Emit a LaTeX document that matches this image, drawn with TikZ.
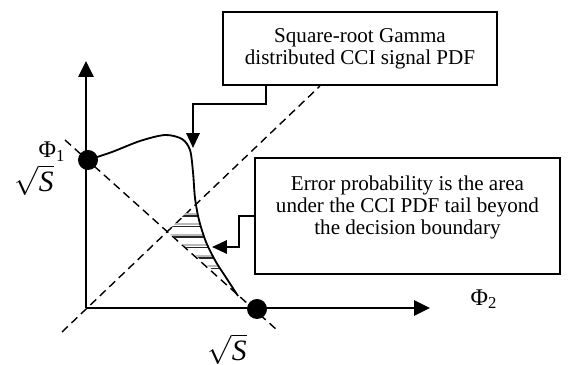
\documentclass[tikz,border=0pt]{standalone}
\usepackage{fontspec}
\setmainfont{Liberation Serif}
\usetikzlibrary{arrows.meta,positioning}

\tikzset{
  axis/.style={line width=2.1pt, -{Triangle[width=0.375cm, length=0.4cm]}},
  boundary/.style={line width=1pt, dash pattern=on 5.7pt off 3.6pt},
  callout/.style={draw, line width=1pt, align=center, font=\fontsize{15}{15.5}\selectfont},
  callout arrow/.style={line width=1.5pt, -{Triangle[width=0.33cm, length=0.37cm]}},
  point/.style={circle, fill=black, inner sep=0pt, minimum size=0.5cm},
  axislabel/.style={font=\fontsize{17}{17}\selectfont},
  rootlabel/.style={font=\fontsize{21}{21}\selectfont},
}

\begin{document}
\begin{tikzpicture}[x=0.025cm, y=-0.025cm]
\useasboundingbox (0,0) rectangle (572,365);

% Signal space axes
\coordinate (origin) at (86,308);
\coordinate (phione) at (86,61);
\coordinate (phitwo) at (430,308);
\draw[axis] (origin) -- (phione);
\draw[axis] (origin) -- (phitwo);
\node[axislabel] (phionelabel) at (52,152) {Φ\textsubscript{1}};
\node[axislabel] (phitwolabel) at (484,299) {Φ\textsubscript{2}};

% Decision boundary and the line joining the two points
\draw[boundary] (62,332) -- (320,86);
\draw[boundary] (65,140) -- (277,330);

% Shaded tail beyond the boundary
\def\pdfcurve{(88,160) (112,152) (140,141) (165,135) (182,139) (190,150) (193,172) (195,198) (199,220) (206,242) (216,262) (227,279) (238,296)}
\begin{scope}
  \clip (intersection of 62,332--320,86 and 65,140--277,330) -- (270,128) -- (270,318) -- cycle;
  \clip plot[smooth] coordinates {\pdfcurve} -- (238,330) -- (60,330) -- (60,150) -- cycle;
  \foreach \y in {216,226.5,237,247.5,258,268.5} {
    \draw[gray!55, line width=1.6pt] (150,\y-2.2) -- (250,\y-2.2);
    \draw[black!85, line width=1.4pt] (150,\y) -- (250,\y);
  }
\end{scope}

% Square-root Gamma PDF
\draw[line width=1.3pt] plot[smooth] coordinates {\pdfcurve};

% Signal points
\node[point] (sigone) at (88,160) {};
\node[point] (sigtwo) at (257,309) {};
\node[rootlabel] (rootone) at (34,180) {$\sqrt{\textit{S}}$};
\node[rootlabel] (roottwo) at (227,349) {$\sqrt{\textit{S}}$};

% Callout boxes
\node[callout, minimum width=6.85cm, minimum height=1.825cm] (pdfbox) at (360,48.5)
  {Square-root Gamma\\distributed CCI signal PDF};
\node[callout, minimum width=7.625cm, minimum height=2.9cm] (errbox) at (407.5,216) {};
\node[font=\fontsize{15}{15.5}\selectfont, align=center, anchor=north] (errtext) at (407.5,171)
  {Error probability is the area\\under the CCI PDF tail beyond\\the decision boundary};

\coordinate (pdftip) at (193,148);
\coordinate (tailtip) at (212,247);
\draw[callout arrow] ([xshift=1.1cm]pdfbox.south west) -- ++(0,18) -| (pdftip);
\draw[callout arrow] (errbox.west) -- ++(-15,0) |- (tailtip);
\end{tikzpicture}
\end{document}
